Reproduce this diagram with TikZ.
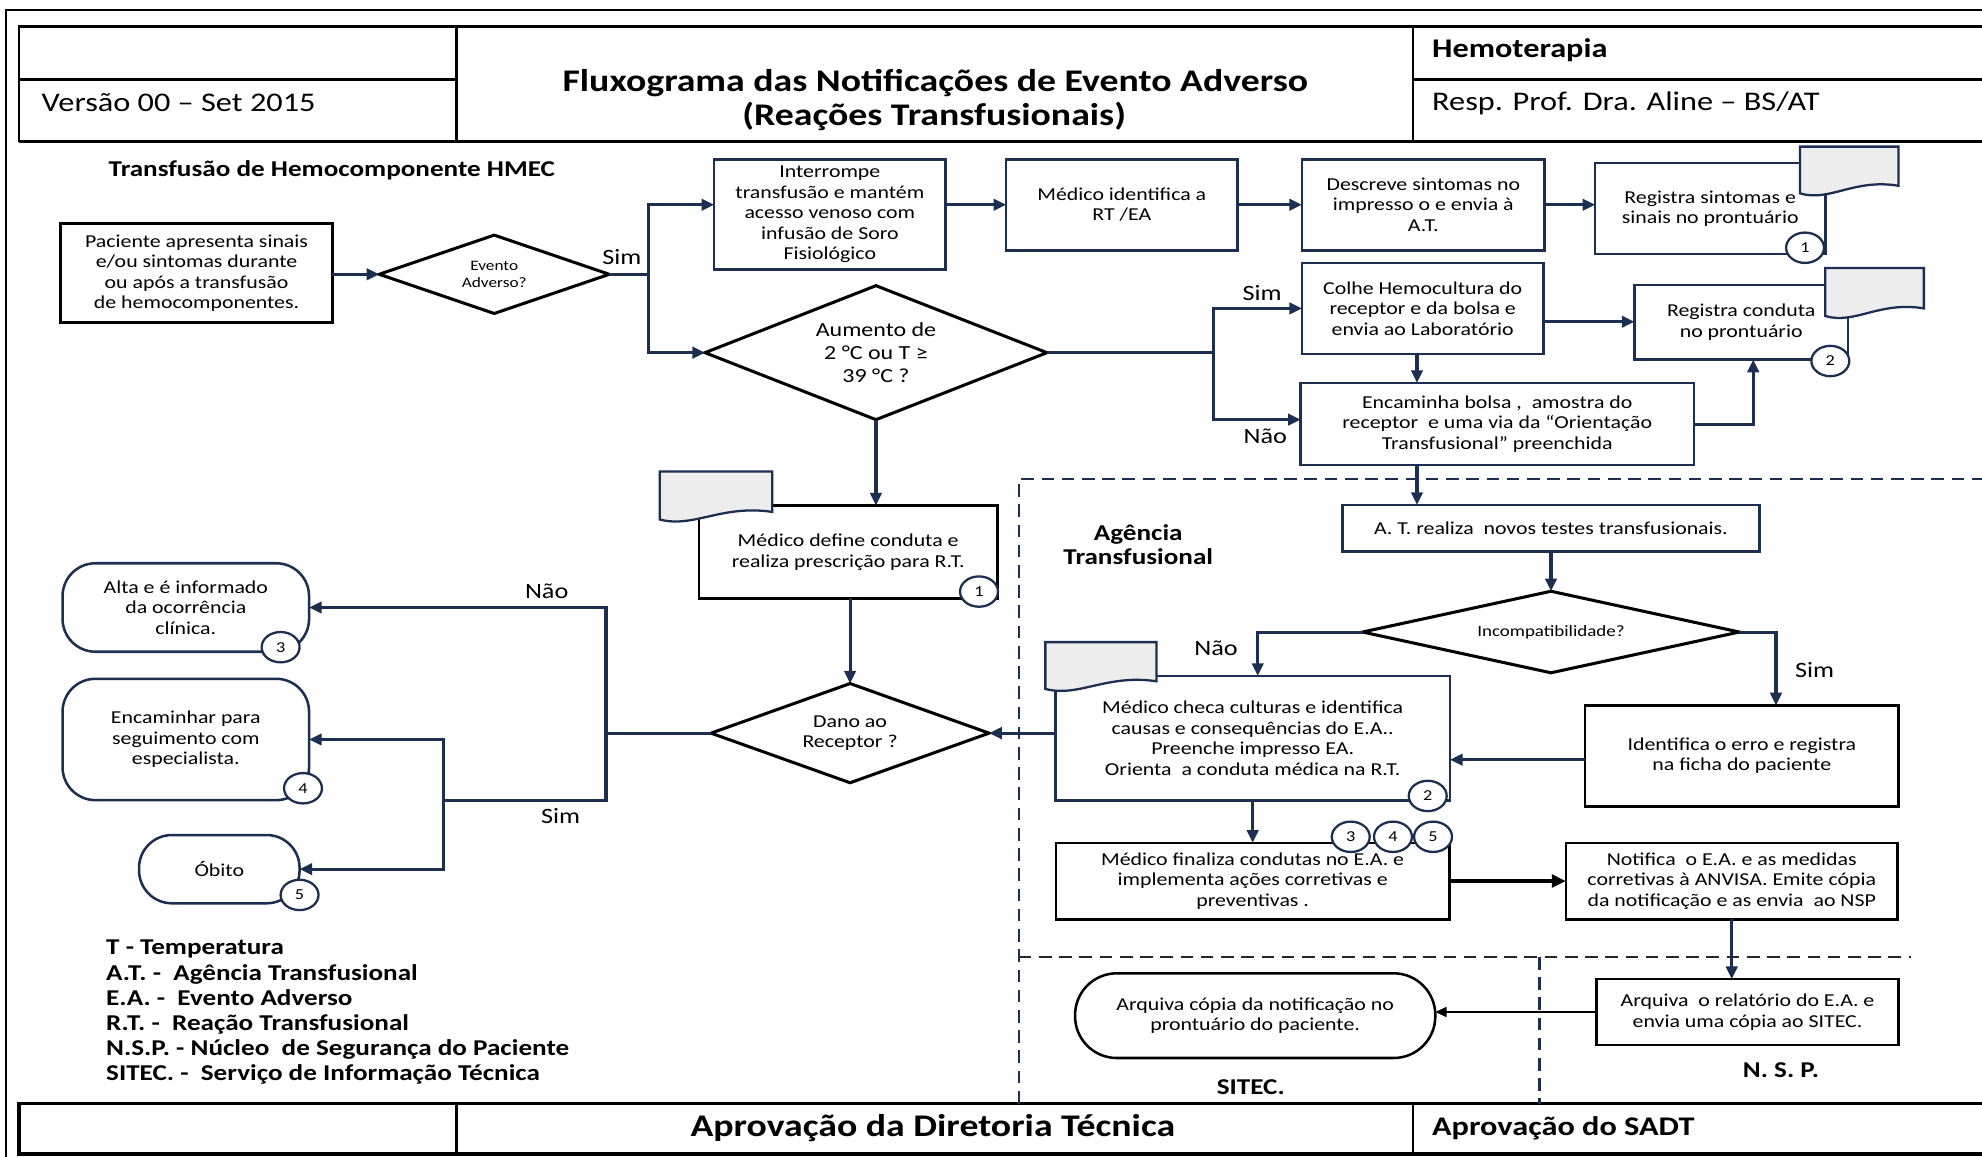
\documentclass[tikz,border=0pt]{standalone}
\usepackage{fontspec}
\setmainfont{Carlito}[FakeStretch=1.2]
\usetikzlibrary{arrows.meta,shapes.geometric}
\definecolor{navy}{HTML}{1C2F50}
\definecolor{docgray}{HTML}{EDEDED}
\newcommand\docshape[4]{%
  \filldraw[docicon] (#1,#2) -- (#3,#2) -- (#3,{#4-3})
   .. controls ({#1+0.55*(#3-#1)},{#4-9}) and ({#1+0.3*(#3-#1)},{#4+10}) .. (#1,{#4+3}) -- cycle;}
\begin{document}
\begin{tikzpicture}[x=1pt,y=-1pt,
  every node/.style={inner sep=0pt, outer sep=0pt},
  txt/.style={font=\fontsize{14.4}{16.2}\selectfont, align=center},
  box/.style={rectangle, draw=navy, line width=2pt, fill=white, txt},
  bbox/.style={rectangle, draw=black, line width=2pt, fill=white, txt},
  dia/.style={diamond, draw=black, line width=2.4pt, fill=white, txt},
  term/.style={rectangle, draw=navy, line width=2pt, fill=white, rounded corners=26pt, txt},
  arr/.style={draw=navy, line width=2.4pt, -{Triangle[length=10pt,width=9pt]}},
  arrk/.style={draw=black, line width=2.6pt, -{Triangle[length=11pt,width=10pt]}},
  arrthin/.style={draw=black, line width=1.3pt, -{Triangle[length=9pt,width=8pt]}},
  conn/.style={draw=navy, line width=2.4pt},
  lbl/.style={font=\fontsize{17.3}{20}\selectfont},
  bold/.style={font=\fontsize{17.9}{19.5}\selectfont\bfseries},
  hdr/.style={font=\fontsize{21.3}{25}\selectfont},
  num/.style={ellipse, draw=navy, line width=1.8pt, fill=white, minimum width=30pt, minimum height=24pt, font=\fontsize{12}{13}\selectfont},
  zone/.style={draw=navy, line width=2pt, dash pattern=on 10pt off 6pt},
  docicon/.style={fill=docgray, draw=navy, line width=1.8pt},
  frame/.style={draw=black, line width=2pt}
]
\useasboundingbox (0,0) rectangle (1568,915);
\fill[white] (0,0) rectangle (1568,915);

% outer frame
\draw[line width=1.5pt] (5,915) -- (5,8) -- (1568,8);

% header table
\draw[frame] (1568,21) -- (15,21) -- (15,112);
\draw[frame, line width=2.6pt] (15,112) -- (1568,112);
\draw[frame] (361,21) -- (361,112);
\draw[frame] (1118,21) -- (1118,112);
\draw[frame] (15,63) -- (361,63);
\draw[frame] (1118,63) -- (1568,63);
\node[hdr, anchor=base west] (ver) at (33,88.6) {Versão 00 – Set 2015};
\node[font=\fontsize{24.9}{27}\selectfont\bfseries, anchor=base] (tit1) at (740,72.5) {Fluxograma das Notificações de Evento Adverso};
\node[font=\fontsize{24.9}{27}\selectfont\bfseries, anchor=base] (tit2) at (739,99) {(Reações Transfusionais)};
\node[font=\fontsize{21.3}{25}\selectfont\bfseries, anchor=base west] (hemo) at (1133,45.4) {Hemoterapia};
\node[hdr, anchor=base west] (resp) at (1133,87.5) {Resp. Prof. Dra. Aline – BS/AT};

% footer table
\draw[frame, line width=2.6pt] (1568,873) -- (15,873) -- (15,913) -- (1568,913);
\draw[frame] (361,873) -- (361,913);
\draw[frame] (1118,873) -- (1118,913);
\node[font=\fontsize{24.9}{27}\selectfont\bfseries, anchor=base] (apr1) at (738,899) {Aprovação da Diretoria Técnica};
\node[font=\fontsize{21.3}{25}\selectfont\bfseries, anchor=base west] (apr2) at (1133,898) {Aprovação do SADT};

% zones
\draw[zone] (806,873) -- (806,379) -- (1568,379);
\draw[zone, draw=black!85] (806,757) -- (1512,757);
\draw[zone] (1218,757) -- (1218,873);
\node[bold, align=center] (agt) at (900.5,431) {Agência\\Transfusional};
\node[bold] (sitec) at (989.5,860) {SITEC.};
\node[bold] (nsp) at (1409,846.6) {N. S. P.};

% title of flow
\node[bold, anchor=base west] (transf) at (86,139.8) {Transfusão de Hemocomponente HMEC};

% nodes
\node[bbox, minimum width=215pt, minimum height=78pt] (pac) at (155.5,216) {Paciente apresenta sinais\\e/ou sintomas durante\\ou após a transfusão\\de hemocomponentes.};
\node[dia, minimum width=182pt, minimum height=62pt, aspect=2.9, font=\fontsize{11.4}{13}\selectfont] (ev) at (391,217) {Evento\\Adverso?};
\node[box, minimum width=183pt, minimum height=87pt] (intr) at (656.5,169.5) {Interrompe\\transfusão e mantém\\acesso venoso com\\infusão de Soro\\Fisiológico};
\node[box, minimum width=183pt, minimum height=72pt] (mid) at (887.5,162) {Médico identifica a\\RT /EA};
\node[box, minimum width=192pt, minimum height=72pt] (desc) at (1126,162) {Descreve sintomas no\\impresso o e envia  à\\A.T.};
\node[box, minimum width=182pt, minimum height=72pt] (regs) at (1353,165) {Registra sintomas e\\sinais no prontuário};
\node[dia, minimum width=270.5pt, minimum height=106pt, aspect=2.55, font=\fontsize{15.8}{18}\selectfont] (aum) at (693,279) {Aumento de\\2 °C ou T ≥\\39 °C ?};
\node[box, minimum width=191pt, minimum height=72pt] (colhe) at (1125.5,244) {Colhe Hemocultura do\\receptor e da bolsa e\\envia ao Laboratório};
\node[box, minimum width=169pt, minimum height=59pt] (regc) at (1377.5,255) {Registra conduta\\no prontuário};
\node[box, minimum width=311pt, minimum height=65pt] (enc) at (1184.5,335.5) {Encaminha bolsa ,\ \ amostra do\\receptor\ \ e uma via da “Orientação\\Transfusional” preenchida};
\node[bbox, minimum width=236pt, minimum height=73.5pt] (mdef) at (671,436.7) {Médico define conduta e\\realiza prescrição para R.T.};
\node[dia, minimum width=220pt, minimum height=78.5pt, aspect=2.8] (dano) at (672.5,580) {Dano ao\\Receptor ?};
\node[term, minimum width=195pt, minimum height=70pt] (alta) at (147,480.6) {Alta e é informado\\da ocorrência\\clínica.};
\node[term, minimum width=195pt, minimum height=96pt] (encm) at (147,585) {Encaminhar para\\seguimento com\\especialista.};
\node[term, minimum width=127pt, minimum height=54pt] (obito) at (173.5,687.6) {Óbito};
\node[box, minimum width=330pt, minimum height=37pt] (at) at (1227,418) {A. T. realiza\ \ novos testes transfusionais.};
\node[dia, minimum width=298pt, minimum height=64.5pt, aspect=4.6, font=\fontsize{12.5}{14}\selectfont] (inc) at (1227,500) {Incompatibilidade?};
\node[box, minimum width=312pt, minimum height=98.5pt] (mchk) at (991,584) {Médico checa culturas e identifica\\causas e consequências do E.A..\\Preenche impresso EA.\\Orienta\ \ a conduta médica na R.T.};
\node[bbox, minimum width=248pt, minimum height=80pt] (ident) at (1378,598) {Identifica o erro e registra\\na ficha do paciente};
\node[bbox, minimum width=311.5pt, minimum height=60.5pt] (mfin) at (991,697) {Médico finaliza condutas no E.A. e\\implementa ações corretivas e\\preventivas .};
\node[bbox, minimum width=262.5pt, minimum height=60.5pt] (notif) at (1370,697) {Notifica\ \ o E.A. e as medidas\\corretivas à ANVISA. Emite cópia\\da notificação e as envia\ \ ao NSP};
\node[bbox, minimum width=239pt, minimum height=52pt] (arqr) at (1382.5,800.6) {Arquiva\ \ o relatório do E.A. e\\envia uma cópia ao SITEC.};
\node[term, draw=black, rounded corners=33pt, minimum width=285pt, minimum height=67pt] (arqc) at (993,803.5) {Arquiva cópia da notificação no\\prontuário do paciente.};

% document icons
\docshape{1424}{116}{1502}{150}
\docshape{1444}{212}{1522}{247}
\docshape{522}{373}{611}{408}
\docshape{827}{508}{915}{542}

% numbered circles
\node[num] (c1a) at (1428,196) {1};
\node[num] (c2a) at (1448,285.6) {2};
\node[num] (c1b) at (774.5,468) {1};
\node[num] (c2b) at (1129.5,629.7) {2};
\node[num] (c3a) at (222,512) {3};
\node[num] (c4a) at (239.7,623.6) {4};
\node[num] (c5a) at (237,708) {5};
\node[num] (c3b) at (1068.6,662) {3};
\node[num] (c4b) at (1102,662) {4};
\node[num] (c5b) at (1133.7,662) {5};

% legend
\node[bold, anchor=base west] (lg1) at (84,755.5) {T - Temperatura};
\node[bold, anchor=base west] (lg2) at (84,775.4) {A.T. -\ \ Agência Transfusional};
\node[bold, anchor=base west] (lg3) at (84,795.3) {E.A. -\ \ Evento Adverso};
\node[bold, anchor=base west] (lg4) at (84,815.2) {R.T. -\ \ Reação Transfusional};
\node[bold, anchor=base west] (lg5) at (84,835.1) {N.S.P. - Núcleo\ \ de Segurança do Paciente};
\node[bold, anchor=base west] (lg6) at (84,855) {SITEC. -\ \ Serviço de Informação Técnica};

% helper coordinates
\coordinate (ya) at (0,162);
\coordinate (j1) at (513,217);
\coordinate (j2) at (960,279);
\coordinate (yb) at (0,332);
\coordinate (xc) at (1121,0);
\coordinate (yc) at (0,254.5);
\coordinate (xd) at (1387,0);
\coordinate (j3) at (479.4,580);
\coordinate (j4) at (350.6,633.5);
\coordinate (xn) at (995,0);
\coordinate (xs) at (1405,0);
\coordinate (yi) at (0,601);

% connectors
\draw[arr] (pac.east |- ev.west) -- (ev.west);
\draw[conn] (ev.east) -- (j1);
\draw[arr] (j1) |- (intr.west |- ya);
\draw[arr] (j1) |- (aum.west);
\draw[arr] (intr.east |- ya) -- (mid.west |- ya);
\draw[arr] (mid.east) -- (desc.west);
\draw[arr] (desc.east) -- (regs.west |- desc.east);
\draw[conn] (aum.east) -- (j2);
\draw[arr] (j2) |- (colhe.west);
\draw[arr] (j2) |- (enc.west |- yb);
\draw[arr] (colhe.south -| xc) -- (enc.north -| xc);
\draw[arr] (colhe.east |- yc) -- (regc.west |- yc);
\draw[arr] (enc.east) -| (regc.south -| xd);
\draw[arr] (aum.south) -- (mdef.north -| aum.south);
\draw[arr] (mdef.south -| dano.north) -- (dano.north);
\draw[conn] (dano.west) -- (j3);
\draw[arr] (j3) |- (alta.east);
\draw[conn] (j3) |- (j4);
\draw[arr] (j4) |- (encm.east);
\draw[arr] (j4) |- (obito.east);
\draw[arr] (enc.south -| xc) -- (at.north -| xc);
\draw[arr] (at.south -| inc.north) -- (inc.north);
\draw[arr] (inc.west) -| (mchk.north -| xn);
\draw[arr] (inc.east) -| (ident.north -| xs);
\draw[arr] (ident.west |- yi) -- (mchk.east |- yi);
\draw[arr] (mchk.west |- dano.east) -- (dano.east);
\draw[arr] (mchk.south) -- (mfin.north);
\draw[arrk] (mfin.east) -- (notif.west);
\draw[arr] (notif.south) -- (notif.south |- arqr.north);
\draw[arrthin] (arqr.west) -- (arqc.east |- arqr.west);

% branch labels
\node[lbl] (s1) at (492,203) {Sim};
\node[lbl] (s2) at (998.5,232) {Sim};
\node[lbl] (n2) at (1001,345) {Não};
\node[lbl] (n3) at (432.5,468) {Não};
\node[lbl] (s3) at (443.5,645.6) {Sim};
\node[lbl] (n4) at (962,513) {Não};
\node[lbl] (s4) at (1435.5,530) {Sim};
\end{tikzpicture}
\end{document}
